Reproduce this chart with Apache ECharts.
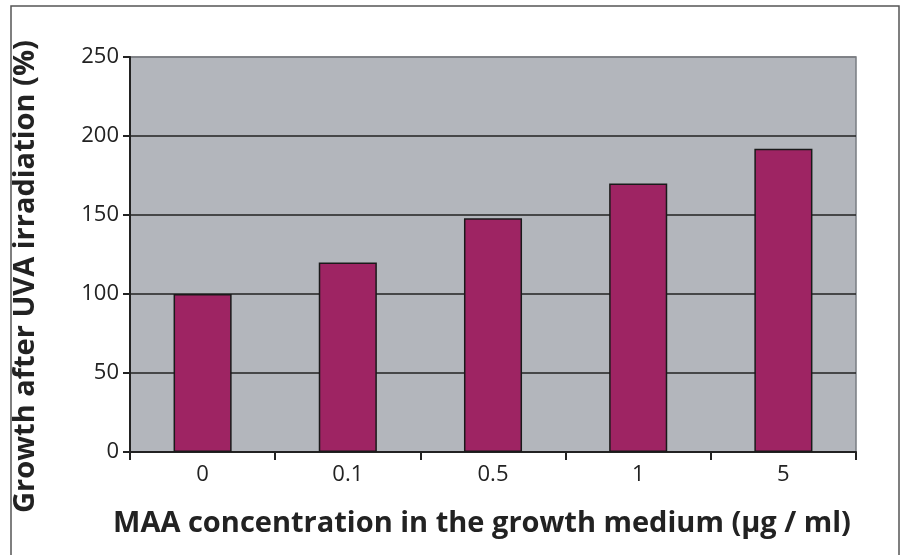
<!DOCTYPE html>
<html>
<head>
<meta charset="utf-8">
<title>MAA growth chart</title>
<script src="https://cdn.jsdelivr.net/npm/echarts@6/dist/echarts.min.js"></script>
<style>
  html, body { margin: 0; padding: 0; background: #fff; }
  #chart { width: 903px; height: 555px; }
</style>
</head>
<body>
<div id="chart"></div>
<script>
// concentrations of MAA (µg/ml)
const concentrations = ['0', '0.1', '0.5', '1', '5'];
// growth after UVA irradiation (%)
const growthValues = [100, 120, 148, 170, 192];
const yTicks = [0, 50, 100, 150, 200, 250];

const chart = echarts.init(document.getElementById('chart'));

const option = {
  backgroundColor: '#fff',
  textStyle: { fontFamily: 'Open Sans' },
  graphic: [{
    type: 'polyline',
    shape: { points: [[11, 555], [11, 6], [899, 6], [899, 555]] },
    style: { stroke: '#555', lineWidth: 1.5, fill: null }
  }],
  grid: {
    left: 130,
    right: 47,
    top: 57,
    bottom: 103,
    show: true,
    backgroundColor: '#b3b6bc',
    borderColor: '#7a7d82',
    borderWidth: 1.5
  },
  xAxis: {
    type: 'category',
    data: concentrations,
    name: 'MAA concentration in the growth medium (µg / ml)',
    nameLocation: 'middle',
    nameGap: 57,
    nameTextStyle: { fontSize: 29, fontWeight: 'bold', color: '#222', padding: [0, 22, 0, 0] },
    axisLine: { lineStyle: { color: '#222', width: 2 } },
    axisTick: { show: true, length: 8, lineStyle: { color: '#222', width: 2 } },
    axisLabel: { fontSize: 22, color: '#222', margin: 12 }
  },
  yAxis: {
    type: 'value',
    min: yTicks[0],
    max: yTicks[yTicks.length - 1],
    interval: 50,
    name: 'Growth after UVA irradiation (%)',
    nameLocation: 'middle',
    nameGap: 90,
    nameTextStyle: { fontSize: 29, fontWeight: 'bold', color: '#222', padding: [0, 44, 0, 0] },
    axisLine: { show: true, lineStyle: { color: '#222', width: 2 } },
    axisTick: { show: true, length: 7, lineStyle: { color: '#222', width: 2 } },
    axisLabel: { fontSize: 22, color: '#222', margin: 11 },
    splitLine: {
      show: true,
      lineStyle: { color: ['#222', '#222', '#222', '#222', '#222', '#7a7d82'], width: 1.5 }
    }
  },
  series: [{
    type: 'bar',
    data: growthValues,
    barWidth: '40%',
    itemStyle: { color: '#9e2463', borderColor: '#1a1a1a', borderWidth: 1.5 }
  }]
};

chart.setOption(option);
</script>
</body>
</html>
